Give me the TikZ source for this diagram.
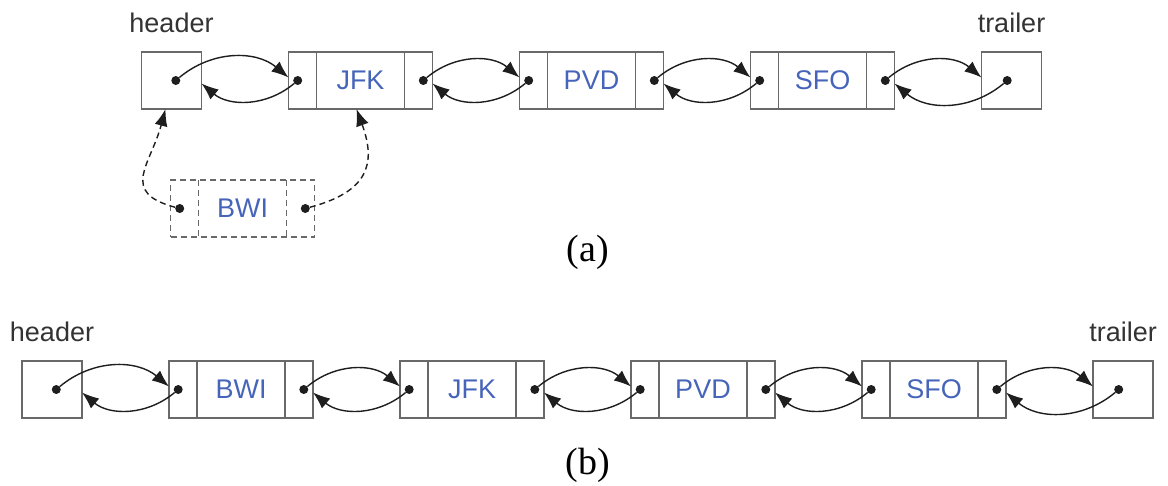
\documentclass[tikz,border=0pt]{standalone}
\usepackage{fontspec}
\setmainfont{Liberation Serif}
\setsansfont{Liberation Sans}
\usepackage{tikz}
\usetikzlibrary{
  positioning,
  arrows.meta,
  shapes.multipart
}
\definecolor{labelblue}{RGB}{70,100,185}
\definecolor{boxgray}{RGB}{105,105,105}
\definecolor{linkgray}{RGB}{30,30,30}
\tikzset{>={Latex[length=17pt,width=13pt]}}
\newcommand{\cell}[1]{\makebox[27.3pt]{}\nodepart{two}\makebox[86.6pt]{#1}\nodepart{three}\makebox[27.3pt]{}}

\begin{document}
\begin{tikzpicture}[x=1pt, y=1pt,
  sentinel/.style = {rectangle, draw=boxgray, line width=1.4pt, minimum width=60pt, minimum height=57pt, inner sep=0pt, outer sep=0pt},
  entry/.style = {rectangle split, rectangle split horizontal, rectangle split parts=3, draw=boxgray, line width=1.4pt, inner xsep=0pt, inner ysep=0pt, outer sep=0pt, minimum height=57pt, font=\sffamily\fontsize{27}{30}\selectfont, text=labelblue},
  ghost/.style = {entry, dash pattern=on 6pt off 4pt},
  dot/.style = {circle, fill=linkgray, inner sep=0pt, minimum size=9pt},
  tag/.style = {font=\sffamily\fontsize{27}{30}\selectfont, text=black!80, inner sep=0pt},
  caption/.style = {font=\fontsize{38}{42}\selectfont, inner sep=0pt},
  link/.style = {->, draw=linkgray, line width=1.4pt}]
        \useasboundingbox (0,0) rectangle (1168,-485);

        % (a): list before the insertion
        \node[sentinel] (header_a) at (171.5,-80.5) {};
        \node[tag, above=19pt of header_a] (header_a_tag) {header};
        \node[dot, left=21pt of header_a.east] (header_a_next) {};
        \foreach \name/\lbl/\prev in {jfk_a/JFK/header_a, pvd_a/PVD/jfk_a, sfo_a/SFO/pvd_a} {
          \node[entry, right=87pt of \prev] (\name) {\cell{\lbl}};
          \node[dot, right=4.5pt of \name.west] (\name_prev) {};
          \node[dot, left=4.5pt of \name.east] (\name_next) {};
        }
        \node[sentinel, right=87pt of sfo_a] (trailer_a) {};
        \node[tag, above=19pt of trailer_a] (trailer_a_tag) {trailer};
        \node[dot, right=21pt of trailer_a.west] (trailer_a_prev) {};

        % the new entry
        \node[ghost, below right=71pt and 29pt of header_a.south west] (bwi_a) {\cell{BWI}};
        \node[dot, right=4.5pt of bwi_a.west] (bwi_a_prev) {};
        \node[dot, left=4.5pt of bwi_a.east] (bwi_a_next) {};
        \node[caption] (cap_a) at (588,-252) {(a)};

        % (b): list after the insertion
        \node[sentinel] (header_b) at (52,-389.5) {};
        \node[tag, above=19pt of header_b] (header_b_tag) {header};
        \node[dot, left=21pt of header_b.east] (header_b_next) {};
        \foreach \name/\lbl/\prev in {bwi_b/BWI/header_b, jfk_b/JFK/bwi_b, pvd_b/PVD/jfk_b, sfo_b/SFO/pvd_b} {
          \node[entry, right=87pt of \prev] (\name) {\cell{\lbl}};
          \node[dot, right=4.5pt of \name.west] (\name_prev) {};
          \node[dot, left=4.5pt of \name.east] (\name_next) {};
        }
        \node[sentinel, right=87pt of sfo_b] (trailer_b) {};
        \node[tag, above=19pt of trailer_b] (trailer_b_tag) {trailer};
        \node[dot, right=21pt of trailer_b.west] (trailer_b_prev) {};
        \node[caption] (cap_b) at (588,-465) {(b)};

        % connections
        \foreach \src/\dst in {header_a/jfk_a, jfk_a/pvd_a, pvd_a/sfo_a, sfo_a/trailer_a,
                               header_b/bwi_b, bwi_b/jfk_b, jfk_b/pvd_b, pvd_b/sfo_b, sfo_b/trailer_b} {
          \draw[link] (\src_next) to[out=40, in=140] ([yshift=3pt]\dst.west);
          \draw[link] (\dst_prev) to[out=220, in=320] ([yshift=-3pt]\src.east);
        }
        \draw[link, dash pattern=on 6pt off 4pt] (bwi_a_prev) to[out=165, in=255, looseness=1.5] ([xshift=-6pt]header_a.south);
        \draw[link, dash pattern=on 6pt off 4pt] (bwi_a_next) to[out=15, in=290, looseness=1.4] ([xshift=-4pt]jfk_a.south);
      \end{tikzpicture}
\end{document}
